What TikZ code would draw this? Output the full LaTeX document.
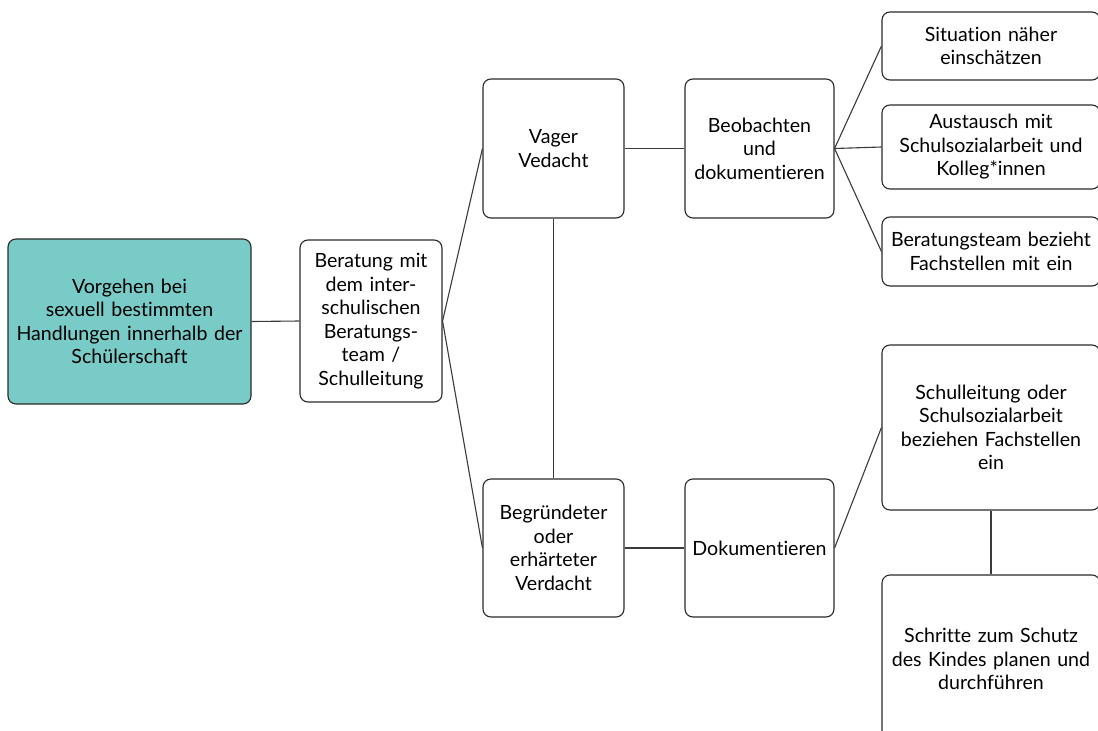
\documentclass[tikz,border=0pt]{standalone}
\usepackage{fontspec}
\setmainfont{Lato}[Ligatures={NoCommon}]
\definecolor{teal1}{HTML}{78CBC6}
\definecolor{edge}{HTML}{2A2A2A}
\definecolor{conn}{HTML}{3A3A3A}
\begin{document}
\begin{tikzpicture}[x=1pt,y=-1pt,
  box/.style={draw=edge,line width=1.1pt,rounded corners=8pt,fill=white,align=center,inner sep=0pt,
    font=\fontsize{19.6}{23.5}\selectfont},
  link/.style={draw=conn,line width=1.1pt}]
\useasboundingbox (0,0) rectangle (1098,731);
\clip (0,0) rectangle (1098,731);
\node[box,fill=teal1,minimum width=243pt,minimum height=165pt,text width=240pt] (goal) at (129.5,321.5)
  {Vorgehen bei\\sexuell bestimmten\\Handlungen innerhalb der\\Schülerschaft};
\node[box,minimum width=142pt,minimum height=162pt,text width=138pt] (ber) at (371,321)
  {Beratung mit\\dem inter-\\schulischen\\Beratungs-\\team /\\Schulleitung};
\node[box,minimum width=141pt,minimum height=139pt,text width=137pt] (vag) at (553.5,148.5)
  {Vager\\Vedacht};
\node[box,minimum width=149pt,minimum height=139pt,text width=146pt] (beo) at (759.5,148.5)
  {Beobachten\\und\\dokumentieren};
\node[box,minimum width=141pt,minimum height=138pt,text width=137pt] (beg) at (553.5,548)
  {Begründeter\\oder\\erhärteter\\Verdacht};
\node[box,minimum width=149pt,minimum height=138pt,text width=146pt] (dok) at (759.5,548)
  {Dokumentieren};
\node[box,minimum width=218pt,minimum height=68pt,text width=214pt] (sit) at (991,46)
  {Situation näher\\einschätzen};
\node[box,minimum width=218pt,minimum height=84pt,text width=214pt] (aus) at (991,147)
  {Austausch mit\\Schulsozialarbeit und\\Kolleg*innen};
\node[box,minimum width=218pt,minimum height=69pt,text width=214pt] (btf) at (991,251.5)
  {Beratungsteam bezieht\\Fachstellen mit ein};
\node[box,minimum width=218pt,minimum height=165pt,text width=214pt] (slf) at (991,427.5)
  {Schulleitung oder\\Schulsozialarbeit\\beziehen Fachstellen\\ein};
\node[box,minimum width=218pt,minimum height=168pt,text width=214pt] (sch) at (991,659)
  {Schritte zum Schutz\\des Kindes planen und\\durchführen};
\draw[link] (goal.east) -- (ber.west);
\draw[link] (ber.east) -- (vag.west);
\draw[link] (ber.east) -- (beg.west);
\draw[link] (vag.south) -- (beg.north);
\draw[link] (vag.east) -- (beo.west);
\draw[link] (beg.east) -- (dok.west);
\draw[link] (beo.east) -- (sit.west);
\draw[link] (beo.east) -- (aus.west);
\draw[link] (beo.east) -- (btf.west);
\draw[link] (dok.east) -- (slf.west);
\draw[link] (slf.south) -- (sch.north);
\end{tikzpicture}
\end{document}
